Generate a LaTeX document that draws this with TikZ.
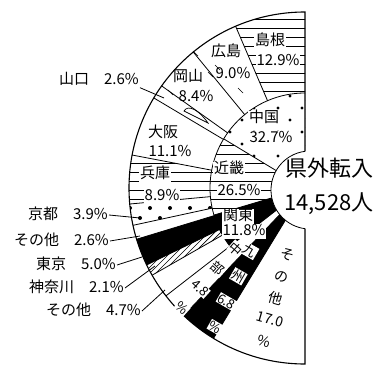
\documentclass[tikz,border=0pt]{standalone}
\usepackage{fontspec}
\setmainfont{Noto Sans CJK JP}
\usetikzlibrary{positioning,calc}

\newcommand{\pieslice}[3]{(C) -- ($(C)+(#1:#3)$) arc[start angle=#1,end angle=#2,radius=#3] -- cycle}

\begin{document}
\begin{tikzpicture}[x=1pt,y=1pt,
    edge/.style={line width=0.8pt},
    frame/.style={line width=1.1pt},
    hline/.style={line width=0.7pt},
    lbl/.style={font=\fontsize{15}{15}\selectfont,inner sep=1pt,text height=11pt,text depth=2pt},
    tag/.style={lbl,fill=white},
    col/.style={font=\fontsize{13}{13}\selectfont,inner sep=0.6pt,fill=white},
    big/.style={font=\fontsize{22}{22}\selectfont,inner sep=1pt,text height=17pt,text depth=3pt},
    lead/.style={line width=0.8pt}]
  \useasboundingbox (0,0) rectangle (380,365);
  \coordinate (C) at (305,177);
  \coordinate (O) at (310,175);

  % outer ring
  \begin{scope}
    \clip \pieslice{90}{113.22}{176pt};
    \foreach \y in {157,166,...,355} \draw[hline] (120,\y) -- (310,\y);
  \end{scope}
  \begin{scope}
    \clip \pieslice{169.2}{185.22}{176pt};
    \foreach \y in {157,166,...,355} \draw[hline] (120,\y) -- (310,\y);
  \end{scope}
  \begin{scope}
    \clip \pieslice{185.22}{192.24}{176pt};
    \foreach \x in {140,160,...,220} \fill (\x,147) circle[radius=2pt];
    \foreach \x in {130,150,...,210} \fill (\x,157) circle[radius=2pt];
  \end{scope}
  \begin{scope}
    \clip \pieslice{205.92}{209.7}{176pt};
    \foreach \x in {0,6,...,200} \draw[hline] (\x,20) -- ++(120,120);
  \end{scope}
  \fill \pieslice{196.92}{205.92}{176pt};
  \foreach \p in {(215,300),(238,277),(168,275),(208,293),(193,314)}
    \draw[hline] \p -- ++(5,-5);
  \draw[hline] (184,254) .. controls (188,261) and (199,255) .. (208,242) -- cycle;

  % inner ring
  \fill[white] \pieslice{90}{196.56}{95pt};
  \fill \pieslice{196.56}{217.8}{95pt};
  \begin{scope}
    \clip \pieslice{90}{148.86}{95pt};
    \foreach \y in {185,209,...,281} \foreach \x in {206,230,...,302} \fill (\x,\y) circle[radius=1.6pt];
    \foreach \y in {197,221,...,269} \foreach \x in {218,242,...,290} \fill (\x,\y) circle[radius=1.6pt];
  \end{scope}
  \begin{scope}
    \clip \pieslice{148.86}{196.56}{95pt};
    \foreach \y in {157,166,...,355} \draw[hline] (120,\y) -- (310,\y);
  \end{scope}
  \fill \pieslice{226.44}{238.68}{176pt};

  % boundaries
  \foreach \a in {113.22,129.42,144.54,149.22,169.2,185.22,192.24,196.92,205.92,209.7}
    \draw[edge] ($(C)+(\a:95pt)$) -- ($(C)+(\a:176pt)$);
  \foreach \a in {148.86,196.56} \draw[edge] (C) -- ($(C)+(\a:95pt)$);
  \foreach \a in {217.8,226.44,238.68} \draw[edge] (C) -- ($(C)+(\a:176pt)$);
  \draw[edge] ($(C)+(90:95pt)$) arc[start angle=90,end angle=217.8,radius=95pt];
  \draw[frame] ($(C)+(90:176pt)$) arc[start angle=90,end angle=270,radius=176pt] -- cycle;

  % centre
  \fill[white] (O) circle[radius=39pt];
  \draw[edge] ($(O)+(97:39pt)$) arc[start angle=97,end angle=263,radius=39pt];
  \node[big] (total) at (329,196) {県外転入};
  \node[big] (totalN) [below=12pt of total] {14,528人};

  % labels
  \node[tag] (shimane) at (270,324) {島根};
  \node[tag] (shimaneV) [below=5pt of shimane,xshift=8pt] {12.9\%};
  \node[lbl] (hiroshima) at (226,313) {広島};
  \node[lbl] (hiroshimaV) [below=7pt of hiroshima,xshift=7pt] {9.0\%};
  \node[lbl] (okayama) at (188,288) {岡山};
  \node[lbl] (okayamaV) [below=5pt of okayama,xshift=8pt] {8.4\%};
  \node[lbl] (osaka) at (163,232) {大阪};
  \node[lbl] (osakaV) [below=4pt of osaka,xshift=7pt] {11.1\%};
  \node[tag] (hyogo) at (155,191) {兵庫};
  \node[tag] (hyogoV) [below=7pt of hyogo,xshift=7pt] {8.9\%};
  \node[tag] (chugoku) at (264,247) {中国};
  \node[tag] (chugokuV) [below=5pt of chugoku,xshift=7pt] {32.7\%};
  \node[tag] (kinki) at (229,196) {近畿};
  \node[tag] (kinkiV) [below=7pt of kinki,xshift=10pt] {26.5\%};
  \node[tag] (kanto) at (238,149) {関東};
  \node[tag] (kantoV) [below=0pt of kanto,xshift=6pt] {11.8\%};

  \node[lbl,anchor=east] (yamaguchi) at (140,285) {山口\quad 2.6\%};
  \coordinate (yamaguchiP) at (164,267);
  \draw[lead] (yamaguchi.south east) -- (yamaguchiP);
  \node[lbl,anchor=east] (kyoto) at (109,150) {京都\quad 3.9\%};
  \coordinate (kyotoP) at (140,147);
  \draw[lead] (kyoto.east) -- (kyotoP);
  \node[lbl,anchor=east] (kinkiEtc) at (110,124) {その他\quad 2.6\%};
  \coordinate (kinkiEtcP) at (140,129);
  \draw[lead] (kinkiEtc.east) -- (kinkiEtcP);
  \node[lbl,anchor=east] (tokyo) at (117,100) {東京\quad 5.0\%};
  \coordinate (tokyoP) at (142,108);
  \draw[lead] (tokyo.east) -- (tokyoP);
  \node[lbl,anchor=east] (kanagawa) at (125,77) {神奈川\quad 2.1\%};
  \coordinate (kanagawaP) at (155,99);
  \draw[lead] (kanagawa.east) -- (kanagawaP);
  \node[lbl,anchor=east] (kantoEtc) at (142,54) {その他\quad 4.7\%};
  \coordinate (kantoEtcP) at (165,75);
  \draw[lead] (kantoEtc.east) -- (kantoEtcP);

  \coordinate (chubuA) at (236,116);
  \coordinate (chubuB) at (182,57);
  \foreach \t [count=\i] in {中,部,4.8,\%}
    {\pgfmathsetmacro\f{(\i-1)/3}
     \node[col,rotate=-42] at ($(chubuA)!\f!(chubuB)$) {\t};}
  \coordinate (kyushuA) at (250,114);
  \coordinate (kyushuB) at (215,38);
  \foreach \t [count=\i] in {九,州,6.8,\%}
    {\pgfmathsetmacro\f{(\i-1)/3}
     \node[col,rotate=-30] at ($(kyushuA)!\f!(kyushuB)$) {\t};}
  \coordinate (etcA) at (288,110);
  \coordinate (etcB) at (264,24);
  \foreach \t [count=\i] in {そ,の,他,17.0,\%}
    {\pgfmathsetmacro\f{(\i-1)/4}
     \node[col,font=\fontsize{14}{14}\selectfont,rotate=-16] at ($(etcA)!\f!(etcB)$) {\t};}
\end{tikzpicture}
\end{document}
